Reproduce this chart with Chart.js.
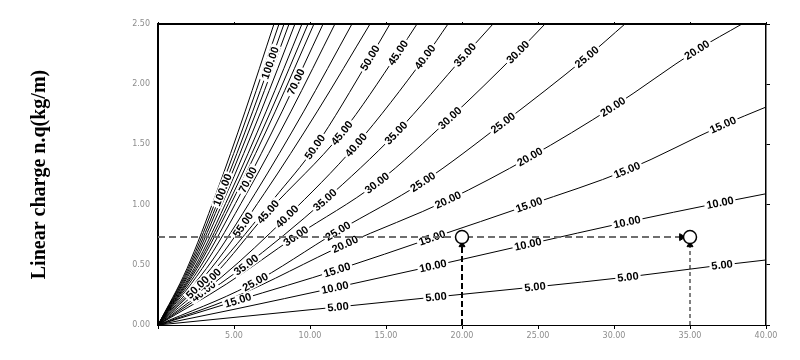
<!DOCTYPE html>
<html><head><meta charset="utf-8">
<script src="https://cdn.jsdelivr.net/npm/chart.js@4.4.1/dist/chart.umd.min.js"></script>
<style>html,body{margin:0;padding:0;background:#fff}#wrap{width:800px;height:360px}</style>
</head><body><div id="wrap"><canvas id="c" width="800" height="360"></canvas></div>
<script>
// ---- data ----
const levels = [5,10,15,20,25,30,35,40,45,50,55,60,65,70,75,80,85,90,95,100,105,110];
const contourX = [
  [0,5,11.84,18.29,24.8,30.92,37.11,40],
  [0,5,11.64,18.09,24.34,30.86,36.97,40],
  [0,5.26,11.78,18.03,24.41,30.86,37.17,40],
  [0,5,12.3,19.08,24.47,29.93,35.46,38.42],
  [0,6,11.84,17.43,22.7,28.22,30.72],
  [0,4.5,9.08,14.41,19.21,23.68,25.46],
  [0,5.5,10.99,15.66,20.2,22.04],
  [0,4.2,8.49,13.03,17.57,19.08],
  [0,3.6,7.24,12.1,15.79,17.04],
  [0,3.8,7.63,10.33,13.95,15.26],
  [0,3.49,6.98,10.46,13.95],
  [0,3.19,6.38,9.57,12.76],
  [0,2.91,5.82,8.73,11.64],
  [0,2.72,5.43,8.15,10.86],
  [0,2.57,5.13,7.70,10.26],
  [0,2.47,4.94,7.40,9.87],
  [0,2.37,4.74,7.10,9.47],
  [0,2.25,4.51,6.76,9.01],
  [0,2.16,4.31,6.47,8.62],
  [0,2.07,4.15,6.22,8.29],
  [0,1.99,3.98,5.97,7.96],
  [0,1.91,3.82,5.72,7.63]
];
const contourQ = [
  [0,0.063,0.150,0.233,0.316,0.399,0.498,0.54],
  [0,0.13,0.31,0.49,0.67,0.855,1.015,1.09],
  [0,0.205,0.457,0.723,0.997,1.287,1.661,1.81],
  [0,0.23,0.67,1.038,1.395,1.811,2.284,2.5],
  [0,0.33,0.78,1.188,1.678,2.226,2.5],
  [0,0.34,0.739,1.179,1.719,2.267,2.5],
  [0,0.47,1.038,1.595,2.243,2.5],
  [0,0.40,0.90,1.495,2.226,2.5],
  [0,0.40,0.939,1.595,2.26,2.5],
  [0,0.47,1.05,1.478,2.218,2.5],
  [0,0.47,1.09,1.77,2.5],
  [0,0.47,1.09,1.77,2.5],
  [0,0.47,1.09,1.77,2.5],
  [0,0.47,1.09,1.77,2.5],
  [0,0.47,1.09,1.77,2.5],
  [0,0.47,1.09,1.77,2.5],
  [0,0.47,1.09,1.77,2.5],
  [0,0.47,1.09,1.77,2.5],
  [0,0.47,1.09,1.77,2.5],
  [0,0.47,1.09,1.77,2.5],
  [0,0.47,1.09,1.77,2.5],
  [0,0.47,1.09,1.77,2.5]
];
// x values (data units) where each contour carries its label
const labelAtX = [
  [11.84,18.29,24.8,30.92,37.11],
  [11.64,18.09,24.34,30.86,36.97],
  [5.26,11.78,18.03,24.41,30.86,37.17],
  [12.3,19.08,24.47,29.93,35.46],
  [6.4,11.84,17.43,22.7,28.22],
  [9.08,14.41,19.21,23.68],
  [5.8,10.99,15.66,20.2],
  [3.0,8.49,13.03,17.57],
  [3.4,7.24,12.1,15.79],
  [2.6,10.33,13.95],
  [5.6],
  [],
  [],
  [5.91,9.09],
  [],
  [],
  [],
  [],
  [],
  [4.25,7.38],
  [],
  []
];
const xTicks = [0,5,10,15,20,25,30,35,40];
const yTicks = [0,0.5,1.0,1.5,2.0,2.5];
const markerX = [20,35];
const markerQ = 0.73;
const yTitle = 'Linear charge n.q(kg/m)';

// ---- datasets ----
const datasets = [];
datasets.push({ // circles
  data: markerX.map(x => ({x, y: markerQ})),
  showLine:false, pointRadius:6.5, pointBackgroundColor:'#fff', pointBorderColor:'#000', pointBorderWidth:1.5
});
datasets.push({ // arrow pointing right
  data: [{x: markerX[1]-0.55, y: markerQ}],
  showLine:false, pointStyle:'triangle', rotation:90, pointRadius:4, pointBackgroundColor:'#000', pointBorderColor:'#000', pointBorderWidth:1
});
datasets.push({ // arrows pointing up under the circles
  data: markerX.map(x => ({x, y: markerQ-0.065})),
  showLine:false, pointStyle:'triangle', rotation:0, pointRadius:3.5, pointBackgroundColor:'#000', pointBorderColor:'#000', pointBorderWidth:1
});
datasets.push({ // horizontal dashed
  data: [{x:0,y:markerQ},{x:markerX[1]-0.6,y:markerQ}],
  borderColor:'#6e6e6e', borderWidth:2, borderDash:[7,4], pointRadius:0
});
datasets.push({ // vertical dashed at first marker
  data: [{x:markerX[0],y:0},{x:markerX[0],y:markerQ-0.06}],
  borderColor:'#000', borderWidth:2, borderDash:[6,3], pointRadius:0
});
datasets.push({ // vertical dashed at second marker
  data: [{x:markerX[1],y:0},{x:markerX[1],y:markerQ-0.06}],
  borderColor:'#000', borderWidth:1, borderDash:[4,3], pointRadius:0
});
const firstContour = datasets.length;
levels.forEach((lv, i) => {
  datasets.push({
    label: lv.toFixed(2),
    data: contourX[i].map((x, k) => ({x, y: contourQ[i][k]})),
    borderColor:'#000', borderWidth:1, pointRadius:0, fill:false,
    cubicInterpolationMode:'monotone'
  });
});

// ---- contour label plugin ----
function pointOnCurve(pts, px) {
  for (let k = 0; k < pts.length - 1; k++) {
    const a = pts[k], b = pts[k+1];
    if (px >= a.x && px <= b.x) {
      const P0=[a.x,a.y], C1=[a.cp2x ?? a.x, a.cp2y ?? a.y], C2=[b.cp1x ?? b.x, b.cp1y ?? b.y], P3=[b.x,b.y];
      const bz = (t, i) => { const u=1-t; return u*u*u*P0[i]+3*u*u*t*C1[i]+3*u*t*t*C2[i]+t*t*t*P3[i]; };
      let lo=0, hi=1;
      for (let it=0; it<40; it++) { const m=(lo+hi)/2; if (bz(m,0) < px) lo=m; else hi=m; }
      const t=(lo+hi)/2, t1=Math.max(0,t-0.02), t2=Math.min(1,t+0.02);
      return {x: bz(t,0), y: bz(t,1), ang: Math.atan2(bz(t2,1)-bz(t1,1), bz(t2,0)-bz(t1,0))};
    }
  }
  return null;
}
const contourLabels = {
  id:'contourLabels',
  afterDatasetDraw(chart, args) {
    if (args.index !== firstContour) return;
    const ctx = chart.ctx, xs = chart.scales.x, area = chart.chartArea;
    ctx.save();
    ctx.beginPath(); ctx.rect(area.left, area.top, area.right-area.left, area.bottom-area.top); ctx.clip();
    ctx.font = 'bold 11px "Liberation Sans", Arial, sans-serif';
    ctx.textAlign = 'center'; ctx.textBaseline = 'middle';
    levels.forEach((lv, i) => {
      const meta = chart.getDatasetMeta(firstContour + i);
      const txt = lv.toFixed(2);
      const w = ctx.measureText(txt).width;
      labelAtX[i].forEach(lx => {
        const p = pointOnCurve(meta.data, xs.getPixelForValue(lx));
        if (!p) return;
        ctx.save();
        ctx.translate(p.x, p.y); ctx.rotate(p.ang);
        ctx.fillStyle = '#fff'; ctx.fillRect(-w/2-2, -5, w+4, 10);
        ctx.fillStyle = '#000'; ctx.fillText(txt, 0, 0.5);
        ctx.restore();
      });
    });
    ctx.restore();
  }
};

const tickFont = {family:'"DejaVu Sans", sans-serif', size:8};
const tickColor = '#8c8c8c';
const setTicks = vals => s => { s.ticks = vals.map(v => ({value:v})); };

new Chart(document.getElementById('c'), {
  type:'line',
  data:{datasets},
  options:{
    responsive:false, animation:false, devicePixelRatio:1, events:[],
    layout:{padding:0},
    plugins:{legend:{display:false}, tooltip:{enabled:false}},
    scales:{
      x:{type:'linear', position:'bottom', min:0, max:40,
        afterBuildTicks:setTicks(xTicks),
        ticks:{callback:v => v===0 ? '' : v.toFixed(2), font:tickFont, color:tickColor, padding:2, maxRotation:0, autoSkip:false},
        grid:{drawOnChartArea:false, drawTicks:true, tickLength:4, color:'#000'},
        border:{display:true, color:'#000', width:1},
        afterFit:s => { s.height = 35; }},
      x2:{type:'linear', position:'top', min:0, max:40,
        afterBuildTicks:setTicks(xTicks),
        ticks:{display:false},
        grid:{drawOnChartArea:false, drawTicks:true, tickLength:2, color:'#000'},
        border:{display:true, color:'#000', width:2},
        afterFit:s => { s.height = 24; }},
      y:{type:'linear', position:'left', min:0, max:2.5,
        afterBuildTicks:setTicks(yTicks),
        ticks:{callback:v => v.toFixed(2), font:tickFont, color:tickColor, padding:8, autoSkip:false},
        grid:{drawOnChartArea:false, drawTicks:false},
        border:{display:true, color:'#000', width:2},
        title:{display:true, text:yTitle, color:'#000', font:{family:'"Liberation Serif", "Times New Roman", serif', size:20, weight:'bold'}, padding:{top:28, bottom:0}},
        afterFit:s => { s.width = 158; }},
      y2:{type:'linear', position:'right', min:0, max:2.5,
        afterBuildTicks:setTicks(yTicks),
        ticks:{display:false},
        grid:{drawOnChartArea:false, drawTicks:true, tickLength:4, color:'#000'},
        border:{display:true, color:'#000', width:1.5},
        afterFit:s => { s.width = 34; }}
    }
  },
  plugins:[contourLabels]
});
</script></body></html>
